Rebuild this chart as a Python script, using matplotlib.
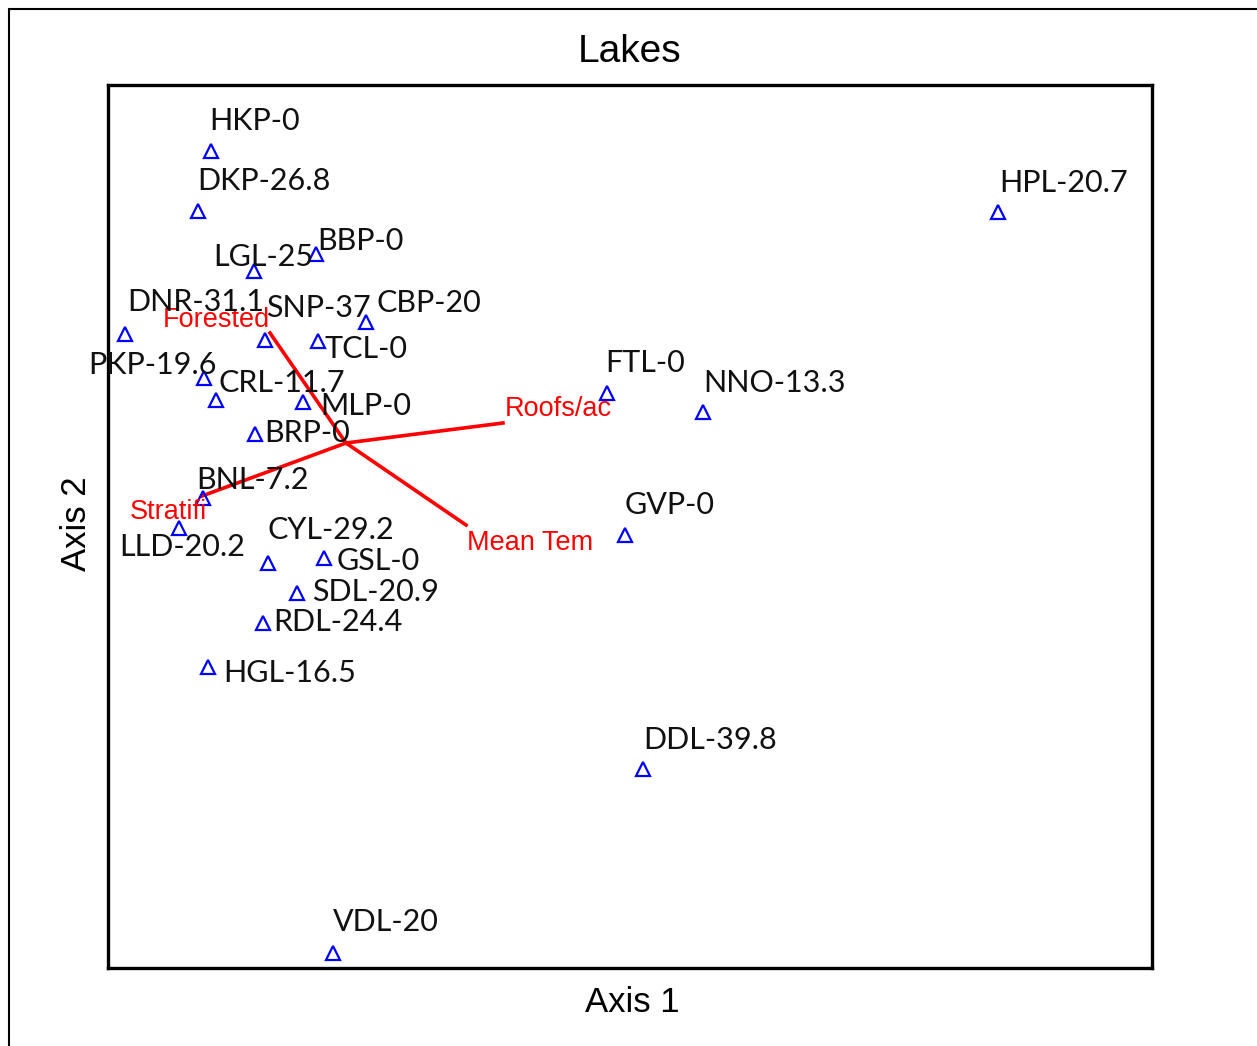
import matplotlib
matplotlib.use('Agg')
import matplotlib.pyplot as plt
from matplotlib.patches import Rectangle

# site scores (axis 1, axis 2)
sites = ['HKP-0', 'DKP-26.8', 'LGL-25', 'BBP-0', 'DNR-31.1', 'SNP-37', 'CBP-20',
         'TCL-0', 'PKP-19.6', 'CRL-11.7', 'MLP-0', 'BRP-0', 'BNL-7.2', 'LLD-20.2',
         'CYL-29.2', 'GSL-0', 'SDL-20.9', 'RDL-24.4', 'HGL-16.5', 'FTL-0',
         'NNO-13.3', 'GVP-0', 'HPL-20.7', 'DDL-39.8', 'VDL-20']
axis1 = [-1.35, -1.48, -0.92, -0.30, -2.21, -0.81, 0.20, -0.28, -1.42, -1.30, -0.43,
         -0.91, -1.43, -1.67, -0.78, -0.22, -0.49, -0.83, -1.38, 2.61, 3.57, 2.79,
         6.52, 2.97, -0.13]
axis2 = [2.92, 2.32, 1.72, 1.89, 1.09, 1.03, 1.21, 1.02, 0.65, 0.43, 0.41, 0.09,
         -0.55, -0.85, -1.20, -1.15, -1.50, -1.80, -2.24, 0.50, 0.31, -0.92, 2.31,
         -3.26, -5.10]

# biplot vectors for environmental variables
variables = ['Forested', 'Roofs/ac', 'Mean Tem', 'Stratifi']
vec1 = [-0.76, 1.57, 1.20, -1.44]
vec2 = [1.10, 0.20, -0.82, -0.53]

# label offsets in pixels (layout only)
site_off = [(44, 30), (66, 30), (9, 14), (44, 13), (71, 32), (53, 32), (63, 19),
            (48, -8), (-51, 13), (66, 17), (63, -4), (52, 1), (50, 18), (3, -19),
            (63, 33), (54, -3), (79, 1), (75, 1), (82, -6), (38, 30), (72, 29),
            (45, 30), (66, 29), (67, 29), (53, 31)]
var_off = [(-54, 13), (55, 14), (64, -18), (-34, -16)]

fig = plt.figure(figsize=(12.57, 10.46), dpi=100)
ax = fig.add_axes([108/1257, 78/1046, 1044/1257, 883/1046])

# outer frame (only left and top visible in the original)
fig.patches.append(Rectangle((9/1257, -0.1), 1.2, (1046-9)/1046 + 0.1,
                             transform=fig.transFigure, fill=False,
                             edgecolor='black', lw=1.5))

for i in range(len(variables)):
    ax.plot([0, vec1[i]], [0, vec2[i]], color='red', lw=2.6, zorder=2)
    ax.annotate(variables[i], (vec1[i], vec2[i]), xytext=var_off[i],
                textcoords='offset pixels', ha='center', va='center',
                color='red', fontsize=19.5, family='Liberation Sans', zorder=4)

ax.plot(axis1, axis2, linestyle='none', marker='^', markersize=10,
        markerfacecolor='none', markeredgecolor='blue', markeredgewidth=1.6, zorder=3)

for i in range(len(sites)):
    ax.annotate(sites[i], (axis1[i], axis2[i]), xytext=site_off[i],
                textcoords='offset pixels', ha='center', va='center',
                color='#111111', fontsize=22, family='Lato', zorder=5)

ax.set_xlim(-2.38, 8.06)
ax.set_ylim(-5.25, 3.58)
ax.set_xticks([])
ax.set_yticks([])
for s in ax.spines.values():
    s.set_linewidth(2.4)

fig.text(630/1257, 1 - 52/1046, 'Lakes', ha='center', va='center',
         fontsize=28, family='Liberation Sans')
fig.text(632/1257, 1 - 1002/1046, 'Axis 1', ha='center', va='center',
         fontsize=25, family='Liberation Sans')
fig.text(77/1257, 1 - 524/1046, 'Axis 2', ha='center', va='center',
         rotation=90, fontsize=25, family='Liberation Sans')

fig.savefig('out.png', dpi=100)
